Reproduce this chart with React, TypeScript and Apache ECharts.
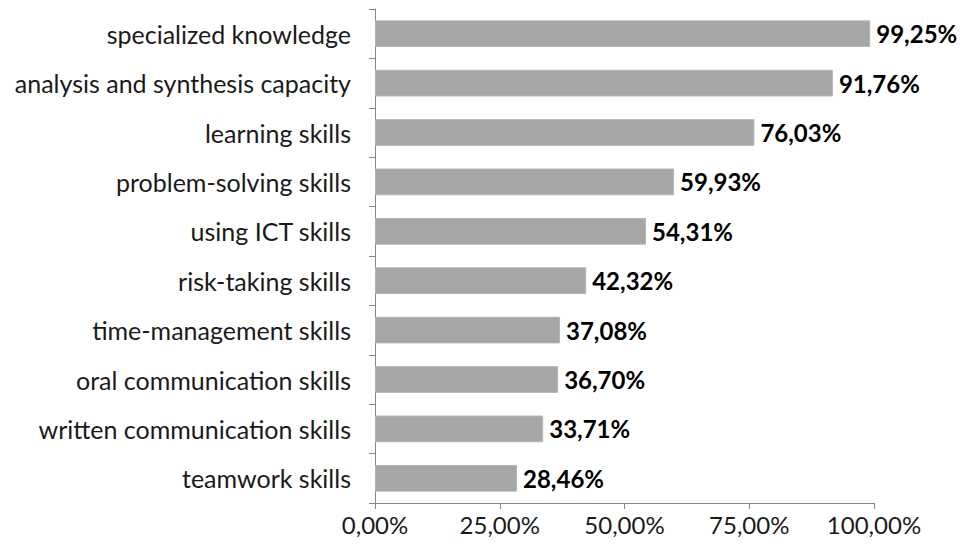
import React, { useEffect, useRef } from "react";
import * as echarts from "echarts";

const categories = [
  "specialized knowledge",
  "analysis and synthesis capacity",
  "learning skills",
  "problem-solving skills",
  "using ICT skills",
  "risk-taking skills",
  "time-management skills",
  "oral communication skills",
  "written communication skills",
  "teamwork skills",
];
const values = [99.25, 91.76, 76.03, 59.93, 54.31, 42.32, 37.08, 36.7, 33.71, 28.46];
const xTicks = [0, 25, 50, 75, 100];

const fmt = (v: number) => v.toFixed(2).replace(".", ",") + "%";
const FONT = "Lato";

export default function App() {
  const ref = useRef<HTMLDivElement>(null);
  useEffect(() => {
    if (!ref.current) return;
    const chart = echarts.init(ref.current, undefined, { renderer: "svg" });
    chart.setOption({
      animation: false,
      backgroundColor: "#ffffff",
      grid: { left: 375, right: 94, top: 9, bottom: 48, containLabel: false },
      xAxis: {
        type: "value",
        min: xTicks[0],
        max: xTicks[xTicks.length - 1],
        interval: 25,
        axisLine: { show: true, lineStyle: { color: "#868686", width: 1 } },
        axisTick: { show: true, length: 6, lineStyle: { color: "#868686" } },
        splitLine: { show: false },
        axisLabel: {
          formatter: (v: number) => fmt(v),
          color: "#1a1a1a",
          fontFamily: FONT,
          fontSize: 24,
          margin: 9,
        },
      },
      yAxis: {
        type: "category",
        data: categories,
        inverse: true,
        axisLine: { show: true, lineStyle: { color: "#868686", width: 1 } },
        axisTick: { show: true, length: 6, alignWithLabel: false, lineStyle: { color: "#868686" } },
        axisLabel: {
          color: "#1a1a1a",
          fontFamily: FONT,
          fontSize: 25,
          margin: 24,
        },
      },
      series: [
        {
          type: "bar",
          data: values,
          barCategoryGap: "46%",
          itemStyle: { color: "#a6a6a6", borderColor: "#b4b4b4", borderWidth: 1 },
          label: {
            show: true,
            position: "right",
            distance: 6,
            formatter: (p: any) => fmt(p.value),
            color: "#000000",
            fontFamily: FONT,
            fontWeight: "bold",
            fontSize: 24,
          },
        },
      ],
    });
    return () => chart.dispose();
  }, []);
  return (
    <div
      ref={ref}
      style={{ position: "fixed", left: 0, top: 0, width: 968, height: 551 }}
    />
  );
}
